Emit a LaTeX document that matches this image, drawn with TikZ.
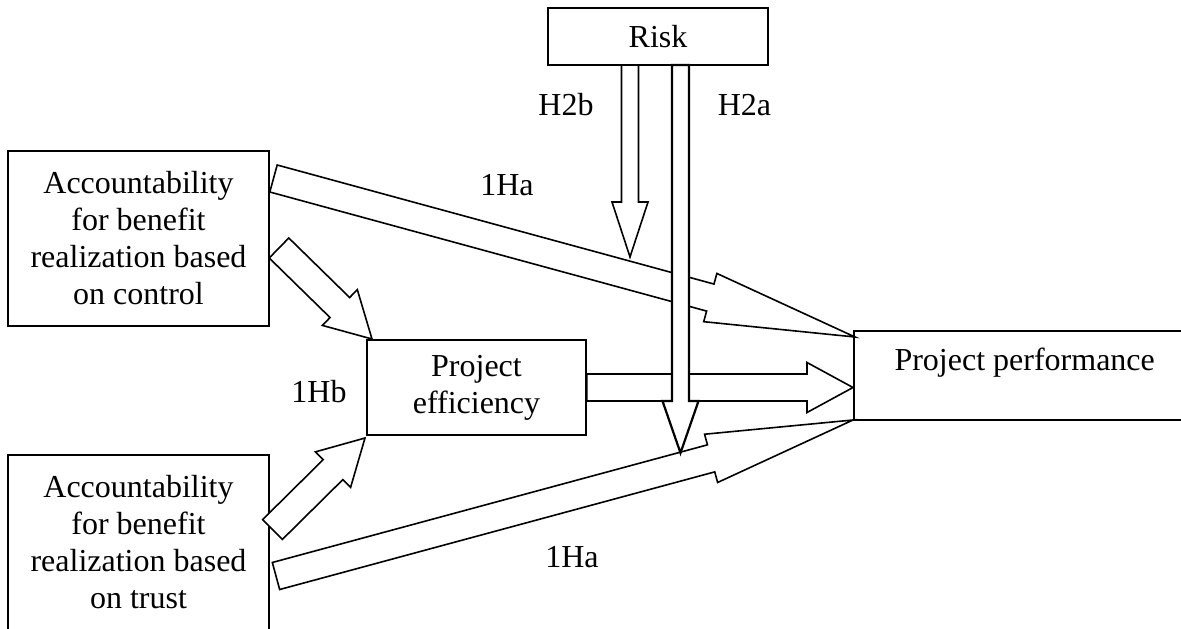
\documentclass[tikz,border=0pt]{standalone}
\usepackage{fontspec}
\setmainfont{Liberation Serif}
\usetikzlibrary{calc}

\tikzset{box/.style={draw=black, line width=1.7pt, align=center, inner sep=0pt},
	blockarrow/.style={draw=black, fill=white, line width=1.6pt, line join=miter}}

% [extra style]{tail}{tip}{shaft half width}{head half width}{head length}
\newcommand{\blockarrow}[6][]{%
	\coordinate (h) at ($(#3)!#6!(#2)$);
	\draw[blockarrow,#1] ($(#2)!#4!90:(#3)$) -- ($(h)!#4!90:(#3)$) -- ($(h)!#5!90:(#3)$) -- (#3)
		-- ($(h)!#5!-90:(#3)$) -- ($(h)!#4!-90:(#3)$) -- ($(#2)!#4!-90:(#3)$) -- cycle;}

\begin{document}
\begin{tikzpicture}[x=1pt, y=-1pt, font=\fontsize{32}{37}\selectfont]
\useasboundingbox (0,0) rectangle (1181,629);

\node[box, minimum width=220pt, minimum height=57pt] (risk) at (658,36.5) {Risk};
\node[box, minimum width=261pt, minimum height=175pt] (control) at (138.5,238.5)
	{Accountability\\for benefit\\realization based\\on control};
\node[box, minimum width=261pt, minimum height=175pt] (trust) at (138.5,542.5)
	{Accountability\\for benefit\\realization based\\on trust};
\node[box, minimum width=219pt, minimum height=95pt] (eff) at (476.5,387.5)
	{Project\\efficiency};
\node[box, minimum width=337pt, minimum height=89pt, anchor=north west] (perf) at (853,330) {};
\node[anchor=base west] (perftext) at (891,370) {Project performance};

% tails and tips
\coordinate (ctrlA) at (273.5,178.5);
\coordinate (ctrlB) at (279,248);
\coordinate (trustA) at (276,576);
\coordinate (trustB) at (272.5,529.5);
\coordinate (effB1) at (372,339);
\coordinate (effB2) at (365,438);
\coordinate (perfA1) at (855,337);
\coordinate (perfA2) at (853,420);
\coordinate (riskb) at (630,65);
\coordinate (riska) at (680.5,65);
\coordinate (tipb) at (630,257);
\coordinate (tipa) at (680.5,453);

% hypotheses 1
\blockarrow{ctrlA}{perfA1}{14pt}{25pt}{150pt}
\blockarrow{trustA}{perfA2}{14pt}{25pt}{147pt}
\blockarrow{ctrlB}{effB1}{14pt}{25pt}{45pt}
\blockarrow{trustB}{effB2}{14pt}{25pt}{45pt}
\blockarrow{eff.east}{eff.east -| perf.west}{13.5pt}{25pt}{46pt}

% moderation by risk
\blockarrow{riskb}{tipb}{8.5pt}{18pt}{55pt}
\blockarrow[line width=2.2pt]{riska}{tipa}{8.5pt}{18pt}{52pt}

\node[anchor=base] (la1) at (507,195) {1Ha};
\node[anchor=base] (la2) at (572,567) {1Ha};
\node[anchor=base] (lb) at (319,402) {1Hb};
\node[anchor=base] (l2b) at (566,115) {H2b};
\node[anchor=base] (l2a) at (744.5,115) {H2a};
\end{tikzpicture}
\end{document}
